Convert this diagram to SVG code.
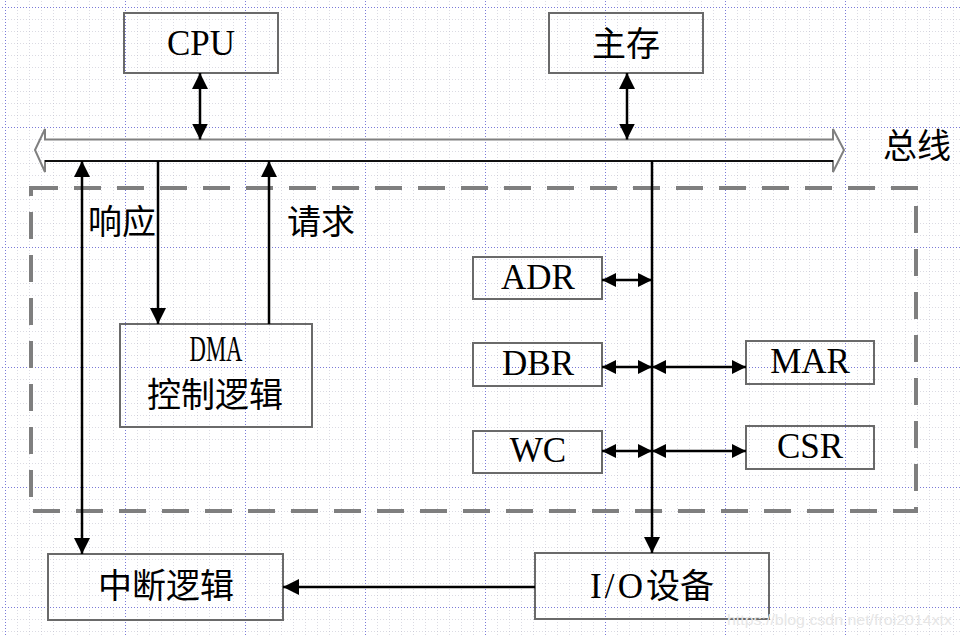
<svg xmlns="http://www.w3.org/2000/svg" width="961" height="637" viewBox="0 0 961 637">
<style>
.box{fill:none;stroke:#6a6a6a;stroke-width:2}
.lbl{font-family:"Liberation Serif","Noto Sans CJK SC",serif;font-size:35px;fill:#000;text-anchor:middle}
.cjk{font-family:"Noto Sans CJK SC","Liberation Serif",sans-serif;font-size:34px;fill:#000;text-anchor:middle}
.conn{stroke:#000;stroke-width:2.5;fill:none}
</style>
<defs>
<pattern id="minor" x="5" y="7" width="12" height="12" patternUnits="userSpaceOnUse">
<path d="M0,0 H12 M0,0 V12" stroke="#b8b8c8" stroke-width="1" stroke-dasharray="1,2" fill="none"/>
</pattern>
<pattern id="major" x="5" y="7" width="120" height="120" patternUnits="userSpaceOnUse">
<path d="M0,0.5 H120 M0.5,0 V120" stroke="#7a7ad8" stroke-width="1" stroke-dasharray="1,2" fill="none"/>
</pattern>
<marker id="ah" markerUnits="userSpaceOnUse" markerWidth="16" markerHeight="16" refX="16" refY="8" orient="auto-start-reverse">
<path d="M0,0 L16,8 L0,16 z" fill="#000"/>
</marker>
<marker id="as" markerUnits="userSpaceOnUse" markerWidth="14" markerHeight="14" refX="14" refY="7" orient="auto-start-reverse">
<path d="M0,0 L14,7 L0,14 z" fill="#000"/>
</marker>
</defs>
<rect width="961" height="637" fill="#fff"/>
<rect width="961" height="637" fill="url(#minor)"/>
<rect width="961" height="637" fill="url(#major)"/>

<g id="dma-area">
<rect x="31" y="188" width="885" height="323" fill="none" stroke="#7f7f7f" stroke-width="4" stroke-dasharray="27,16"/>
</g>

<g id="bus">
<polygon points="35,150 45,129 45,139.5 833,139.5 833,129 844,150 833,172 833,161 45,161 45,172" fill="none" stroke="#808080" stroke-width="2"/>
<line x1="45" y1="161" x2="833" y2="161" stroke="#111" stroke-width="2"/>
<text class="cjk" x="917" y="158">总线</text>
</g>

<g id="cpu"><rect class="box" x="124" y="13" width="154" height="60"/><text class="lbl" x="201" y="55">CPU</text></g>
<g id="mem"><rect class="box" x="549" y="13" width="154" height="60"/><text class="cjk" x="626" y="56">主存</text></g>
<g id="dma"><rect class="box" x="120" y="324" width="192" height="103"/>
<text class="lbl" x="216" y="361" font-size="28" textLength="53" lengthAdjust="spacingAndGlyphs">DMA</text>
<text class="cjk" x="215" y="407">控制逻辑</text></g>
<g id="adr"><rect class="box" x="473" y="257" width="129" height="42"/><text class="lbl" x="538" y="289">ADR</text></g>
<g id="dbr"><rect class="box" x="473" y="343" width="129" height="43"/><text class="lbl" x="538" y="375">DBR</text></g>
<g id="wc"><rect class="box" x="473" y="431" width="129" height="42"/><text class="lbl" x="538" y="462">WC</text></g>
<g id="mar"><rect class="box" x="746" y="341" width="128" height="43"/><text class="lbl" x="810" y="373">MAR</text></g>
<g id="csr"><rect class="box" x="746" y="426" width="128" height="43"/><text class="lbl" x="810" y="458">CSR</text></g>
<g id="intr"><rect class="box" x="48" y="554" width="235" height="66"/><text class="cjk" x="166" y="598">中断逻辑</text></g>
<g id="io"><rect class="box" x="535" y="553" width="234" height="66"/><text class="cjk" x="652" y="598"><tspan font-family="Liberation Serif" font-size="35" textLength="53" lengthAdjust="spacing">I/O</tspan>设备</text></g>

<g id="connectors">
<line class="conn" x1="200" y1="73" x2="200" y2="139.5" marker-start="url(#ah)" marker-end="url(#ah)"/>
<line class="conn" x1="627" y1="73" x2="627" y2="139.5" marker-start="url(#ah)" marker-end="url(#ah)"/>
<line class="conn" x1="82" y1="161" x2="82" y2="554" marker-start="url(#ah)" marker-end="url(#ah)"/>
<line class="conn" x1="158" y1="161" x2="158" y2="324" marker-end="url(#ah)"/>
<line class="conn" x1="269" y1="324" x2="269" y2="161" marker-end="url(#ah)"/>
<line class="conn" x1="652" y1="161" x2="652" y2="553" marker-end="url(#ah)"/>
<line class="conn" x1="602" y1="280" x2="652" y2="280" marker-start="url(#as)" marker-end="url(#as)"/>
<line class="conn" x1="602" y1="367" x2="652" y2="367" marker-start="url(#as)" marker-end="url(#as)"/>
<line class="conn" x1="652" y1="367" x2="746" y2="367" marker-start="url(#as)" marker-end="url(#as)"/>
<line class="conn" x1="602" y1="451" x2="652" y2="451" marker-start="url(#as)" marker-end="url(#as)"/>
<line class="conn" x1="652" y1="451" x2="746" y2="451" marker-start="url(#as)" marker-end="url(#as)"/>
<line class="conn" x1="535" y1="587" x2="283" y2="587" marker-end="url(#ah)"/>
<text class="cjk" x="122" y="234">响应</text>
<text class="cjk" x="321" y="234">请求</text>
</g>
<text x="727" y="625" font-family="Liberation Sans" font-size="15" fill="#e6e6e6" textLength="225" lengthAdjust="spacingAndGlyphs">https://blog.csdn.net/froi2014xtx</text>
</svg>
